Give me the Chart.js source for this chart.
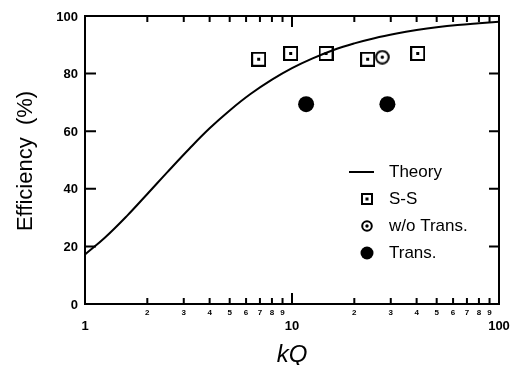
<!DOCTYPE html>
<html>
<head>
<meta charset="utf-8">
<script src="https://cdn.jsdelivr.net/npm/chart.js@4.4.0/dist/chart.umd.min.js"></script>
<style>
  html, body { margin: 0; padding: 0; background: #fff; }
  #wrap { width: 511px; height: 365px; }
</style>
</head>
<body>
<div id="wrap"><canvas id="myChart" width="511" height="365"></canvas></div>
<script>
// theory curve, efficiency vs kQ
const theoryKQ  = [1, 1.25, 1.6, 2, 2.5, 3.2, 4, 5, 6.3, 8, 10, 12.5, 16, 20, 25, 32, 40, 50, 63, 80, 100]
const theoryEff = [17.2, 23.1, 30.7, 38.2, 45.8, 54.0, 61.0, 67.2, 72.9, 77.9, 81.9, 85.2, 88.3, 90.5, 92.3, 93.9, 95.1, 96.1, 96.9, 97.5, 98.0]

// measured points
const ssKQ  = [6.9, 9.85, 14.6, 23.2, 40.5]
const ssEff = [85, 87, 87, 85, 87]
const woKQ  = [27.3]
const woEff = [85.7]
const trKQ  = [11.7, 28.9]
const trEff = [69.4, 69.4]

const yTicks = [0, 20, 40, 60, 80, 100]
const xMajor = [1, 10, 100]
const xMinor = [2, 3, 4, 5, 6, 7, 8, 9, 20, 30, 40, 50, 60, 70, 80, 90]

const FONT = '"Liberation Sans", Arial, sans-serif'

function pairs(xs, ys) {
  return xs.map((x, i) => ({ x: x, y: ys[i] }))
}

// square with a dot in the middle
function squareMark(size) {
  const c = document.createElement('canvas')
  c.width = size; c.height = size
  const g = c.getContext('2d')
  g.strokeStyle = '#000'; g.lineWidth = 2
  g.strokeRect(1, 1, size - 2, size - 2)
  g.fillStyle = '#000'
  const d = 3
  g.fillRect((size - d) / 2, (size - d) / 2, d, d)
  return c
}

// open circle with a dot
function circleMark(size) {
  const c = document.createElement('canvas')
  c.width = size; c.height = size
  const g = c.getContext('2d')
  g.strokeStyle = '#000'; g.lineWidth = 2
  g.beginPath(); g.arc(size / 2, size / 2, size / 2 - 1.2, 0, Math.PI * 2); g.stroke()
  g.fillStyle = '#000'
  g.beginPath(); g.arc(size / 2, size / 2, 1.7, 0, Math.PI * 2); g.fill()
  return c
}

const sqImg = squareMark(15)
const ciImg = circleMark(15)

const axesPlugin = {
  id: 'frameAxes',
  afterDatasetsDraw(chart) {
    const ctx = chart.ctx
    const a = chart.chartArea
    const xs = chart.scales.x, ys = chart.scales.y
    ctx.save()
    ctx.strokeStyle = '#000'
    ctx.fillStyle = '#000'
    ctx.lineWidth = 2
    ctx.strokeRect(a.left, a.top, a.right - a.left, a.bottom - a.top)

    // y ticks, inward on both sides
    yTicks.forEach(v => {
      const y = ys.getPixelForValue(v)
      ctx.beginPath()
      ctx.moveTo(a.left, y); ctx.lineTo(a.left + 11, y)
      ctx.moveTo(a.right, y); ctx.lineTo(a.right - 10, y)
      ctx.stroke()
    })
    ctx.font = 'bold 13px ' + FONT
    ctx.textAlign = 'right'
    ctx.textBaseline = 'middle'
    yTicks.forEach(v => {
      ctx.fillText(String(v), a.left - 7, ys.getPixelForValue(v) + 1)
    })

    // x ticks, inward top and bottom
    xMajor.forEach(v => {
      const x = xs.getPixelForValue(v)
      ctx.beginPath()
      ctx.moveTo(x, a.bottom); ctx.lineTo(x, a.bottom - 11)
      ctx.moveTo(x, a.top); ctx.lineTo(x, a.top + 11)
      ctx.stroke()
    })
    xMinor.forEach(v => {
      const x = xs.getPixelForValue(v)
      ctx.beginPath()
      ctx.moveTo(x, a.bottom); ctx.lineTo(x, a.bottom - 6)
      ctx.moveTo(x, a.top); ctx.lineTo(x, a.top + 6)
      ctx.stroke()
    })
    ctx.textAlign = 'center'
    ctx.font = 'bold 13px ' + FONT
    xMajor.forEach(v => {
      ctx.fillText(String(v), xs.getPixelForValue(v), a.bottom + 22)
    })
    ctx.font = 'bold 8px ' + FONT
    xMinor.forEach(v => {
      const lbl = v < 10 ? v : v / 10
      ctx.fillText(String(lbl), xs.getPixelForValue(v), a.bottom + 9)
    })

    // axis titles
    ctx.font = 'italic 24px ' + FONT
    ctx.fillText('kQ', (a.left + a.right) / 2, a.bottom + 51)
    ctx.save()
    ctx.translate(26, (a.top + a.bottom) / 2 + 1)
    ctx.rotate(-Math.PI / 2)
    ctx.font = '22px ' + FONT
    ctx.fillText('Efficiency  (%)', 0, 0)
    ctx.restore()

    // legend
    const lx = 367, tx = 389
    ctx.font = '17px ' + FONT
    ctx.textAlign = 'left'
    ctx.lineWidth = 2
    ctx.beginPath(); ctx.moveTo(349, 172); ctx.lineTo(374, 172); ctx.stroke()
    ctx.fillText('Theory', tx, 172)
    ctx.drawImage(squareMark(12), lx - 6, 199 - 6)
    ctx.fillText('S-S', tx, 199)
    ctx.drawImage(circleMark(12), lx - 6, 226 - 6)
    ctx.fillText('w/o Trans.', tx, 226)
    ctx.beginPath(); ctx.arc(lx, 253, 6.5, 0, Math.PI * 2); ctx.fill()
    ctx.fillText('Trans.', tx, 253)
    ctx.restore()
  }
}

const chart = new Chart(document.getElementById('myChart').getContext('2d'), {
  type: 'scatter',
  data: {
    datasets: [
      {
        label: 'Theory',
        data: pairs(theoryKQ, theoryEff),
        showLine: true,
        borderColor: '#000',
        borderWidth: 2,
        pointRadius: 0,
        tension: 0.4
      },
      {
        label: 'S-S',
        data: pairs(ssKQ, ssEff),
        pointStyle: sqImg
      },
      {
        label: 'w/o Trans.',
        data: pairs(woKQ, woEff),
        pointStyle: ciImg
      },
      {
        label: 'Trans.',
        data: pairs(trKQ, trEff),
        pointStyle: 'circle',
        pointRadius: 8,
        backgroundColor: '#000',
        borderColor: '#000',
        borderWidth: 0
      }
    ]
  },
  options: {
    responsive: false,
    animation: false,
    layout: { padding: { left: 85, right: 12, top: 16, bottom: 61 } },
    plugins: { legend: { display: false }, tooltip: { enabled: false } },
    scales: {
      x: { type: 'logarithmic', min: 1, max: 100, display: false },
      y: { type: 'linear', min: 0, max: 100, display: false }
    }
  },
  plugins: [axesPlugin]
})
</script>
</body>
</html>
